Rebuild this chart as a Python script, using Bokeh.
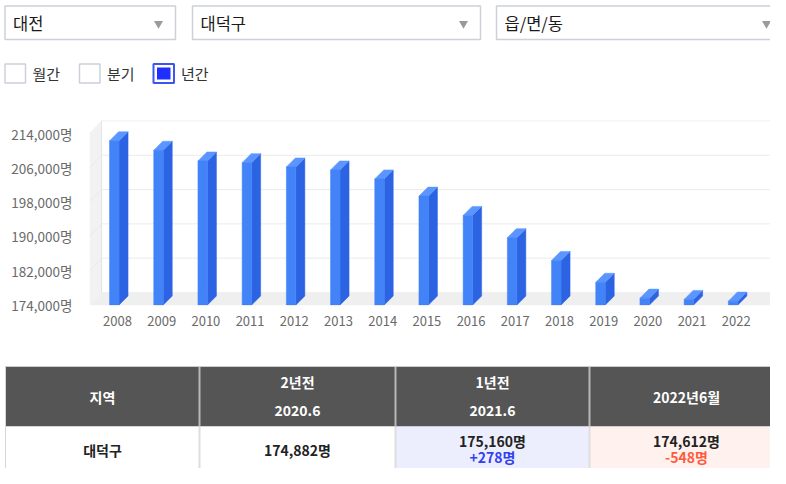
from bokeh.plotting import figure
from bokeh.models import Range1d, FixedTicker, LinearAxis
from bokeh.core.properties import value
from bokeh.embed import file_html
from bokeh.resources import INLINE

FONT = "Noto Sans CJK KR"

# ---------------- data ----------------
years = list(range(2008, 2023))
population = [212300, 210100, 207600, 207200, 206200, 205500, 203400, 199400,
              194900, 189700, 184400, 179300, 175600, 175300, 174900]
y_ticks = [174000, 182000, 190000, 198000, 206000, 214000]

dropdown_labels = ["대전", "대덕구", "읍/면/동"]
period_labels = ["월간", "분기", "년간"]
period_checked = [False, False, True]

table_head_top = ["지역", "2년전", "1년전", "2022년6월"]
table_head_bottom = ["", "2020.6", "2021.6", ""]
region_name = "대덕구"
table_values = ["174,882명", "175,160명", "174,612명"]
table_changes = ["", "+278명", "-548명"]

# ---------------- helpers ----------------
W = 770


def blank(height, y_top, y_bottom):
    p = figure(width=W, height=height, x_range=Range1d(0, W),
               y_range=Range1d(y_bottom, y_top), output_backend="svg",
               toolbar_location=None, x_axis_type=None, y_axis_type=None,
               min_border=0)
    p.grid.visible = False
    p.outline_line_color = None
    p.background_fill_color = "white"
    p.border_fill_color = "white"
    return p


# ---------------- header (dropdowns + checkboxes) ----------------
hdr = blank(95, 0, 95)
dd_left = [4.5, 192, 496]
dd_right = [175, 480, 783]
hdr.quad(left=dd_left, right=dd_right, top=5.5, bottom=39, fill_color="white",
         line_color="#cdd0d9", line_width=1.5)
hdr.text(x=[l + 8 for l in dd_left], y=22.5, text=dropdown_labels,
         text_font=value(FONT), text_font_size="16.5px", text_color="#1a1a1a",
         text_align="left", text_baseline="middle")
hdr.scatter(x=[r - 17 for r in dd_right], y=23, marker="inverted_triangle",
            size=9, fill_color="#9a9a9a", line_color=None)

cb_left = [4.5, 79, 153]
hdr.quad(left=cb_left, right=[l + 20.5 for l in cb_left], top=63.5, bottom=82.5,
         fill_color="white",
         line_color=["#3d55f0" if c else "#cdd0d9" for c in period_checked],
         line_width=[2 if c else 1.5 for c in period_checked])
chk = [l for l, c in zip(cb_left, period_checked) if c]
hdr.quad(left=[l + 3.5 for l in chk], right=[l + 17 for l in chk],
         top=67, bottom=79, fill_color="#1f2fff", line_color=None)
hdr.text(x=[l + 27.5 for l in cb_left], y=73, text=period_labels,
         text_font=value(FONT), text_font_size="15px", text_color="#333333",
         text_align="left", text_baseline="middle")

# ---------------- 3D bar chart ----------------
px_year = 44.2
x0 = 2008 - 28 / px_year          # front-left edge of floor
x_far = 2008 + 665 / px_year      # back-right edge of walls
x_end = 2008 + 653 / px_year      # visible right edge
y0, y1 = 173880, 217040
ddx, ddy = 12 / px_year, 2924      # wall depth
bdx, bdy = 9 / px_year, 2105       # bar depth
base = 174000

ch = figure(width=W, height=255, x_range=Range1d(x0, x_end), y_range=Range1d(y0, y1),
            output_backend="svg", toolbar_location=None, x_axis_type=None,
            y_axis_type=None, min_border_left=89, min_border_right=0,
            min_border_top=25, min_border_bottom=45)
ch.grid.visible = False
ch.outline_line_color = None

# left wall
ch.patch(x=[x0, x0, x0 + ddx, x0 + ddx], y=[y0, y1 - ddy, y1, y0 + ddy],
         fill_color="#f2f2f2", line_color=None)
# back wall
ch.quad(left=x0 + ddx, right=x_far, bottom=base + ddy - 120, top=y1 - 60,
        fill_color="white", line_color="#e4e4e4", line_width=1)
# floor
ch.patch(x=[x0, x_far - ddx, x_far, x0 + ddx], y=[y0, y0, y0 + ddy, y0 + ddy],
         fill_color="#efefef", line_color=None)
# grid lines
ch.segment(x0=x0 + ddx, x1=x_far, y0=[t + ddy for t in y_ticks[1:-1]],
           y1=[t + ddy for t in y_ticks[1:-1]], line_color="#ebebeb", line_width=1)
ch.segment(x0=x0, x1=x0 + ddx, y0=y_ticks[1:-1], y1=[t + ddy for t in y_ticks[1:-1]],
           line_color="#e9e9e9", line_width=1)

# bars
lefts = [y - 0.18 for y in years]
rights = [y + 0.035 for y in years]
ch.patches(xs=[[r, r + bdx, r + bdx, r] for r in rights],
           ys=[[base, base + bdy, v + bdy, v] for v in population],
           fill_color="#2b63e3", line_color="#2b63e3", line_width=0.5)
ch.patches(xs=[[l, r, r + bdx, l + bdx] for l, r in zip(lefts, rights)],
           ys=[[v, v, v + bdy, v + bdy] for v in population],
           fill_color="#5b95ff", line_color="#5b95ff", line_width=0.5)
ch.quad(left=lefts, right=rights, bottom=base, top=population,
        fill_color="#4283f8", line_color="#4283f8", line_width=0.5)

yax = LinearAxis(ticker=FixedTicker(ticks=y_ticks),
                 major_label_overrides={t: f"{t:,}명" for t in y_ticks})
xax = LinearAxis(ticker=FixedTicker(ticks=years),
                 major_label_overrides={y: str(y) for y in years})
for ax, so, fs in ((yax, 17, "13.5px"), (xax, 10, "13px")):
    ax.axis_line_color = None
    ax.major_tick_line_color = None
    ax.minor_tick_line_color = None
    ax.major_tick_out = 0
    ax.major_tick_in = 0
    ax.major_label_standoff = so
    ax.major_label_text_color = "#6a6a6a"
    ax.major_label_text_font = FONT
    ax.major_label_text_font_size = fs
ch.add_layout(yax, "left")
ch.add_layout(xax, "below")

# ---------------- table ----------------
tb = blank(118, 350, 468)
col_l = [5, 199, 395, 589]
col_r = [199, 395, 589, 783]
col_c = [(a + b) / 2 for a, b in zip(col_l, col_r)]
tb.quad(left=col_l, right=col_r, top=366, bottom=426, fill_color="#555555", line_color=None)
tb.quad(left=col_l, right=col_r, top=426, bottom=486,
        fill_color=["#ffffff", "#ffffff", "#eceefe", "#fff1ee"], line_color=None)
tb.segment(x0=col_r[:-1], x1=col_r[:-1], y0=366, y1=426, line_color="#b8b8b8", line_width=2)
tb.segment(x0=col_r[:-1], x1=col_r[:-1], y0=426, y1=486, line_color="#dedede", line_width=2)
tb.segment(x0=5, x1=5, y0=366, y1=486, line_color="#d6d6d6", line_width=1)
tb.segment(x0=5, x1=783, y0=366, y1=366, line_color="#cccccc", line_width=1)

single = [i for i, b in enumerate(table_head_bottom) if b == ""]
double = [i for i, b in enumerate(table_head_bottom) if b != ""]
head_style = dict(text_font=value(FONT), text_font_size="14px", text_color="white",
                  text_font_style="bold", text_align="center", text_baseline="middle")
tb.text(x=[col_c[i] for i in single], y=396, text=[table_head_top[i] for i in single], **head_style)
tb.text(x=[col_c[i] for i in double], y=381, text=[table_head_top[i] for i in double], **head_style)
tb.text(x=[col_c[i] for i in double], y=410, text=[table_head_bottom[i] for i in double], **head_style)

cell_style = dict(text_font=value(FONT), text_font_size="14px", text_font_style="bold",
                  text_align="center", text_baseline="middle")
tb.text(x=[col_c[0], col_c[1]], y=449, text=[region_name, table_values[0]],
        text_color="#222222", **cell_style)
tb.text(x=col_c[2:], y=440, text=table_values[1:], text_color="#222222", **cell_style)
tb.text(x=col_c[2:], y=456, text=table_changes[1:],
        text_color=["#3340f0", "#ff5a3c"], **cell_style)

open("out.html", "w").write(file_html([hdr, ch, tb], INLINE))
